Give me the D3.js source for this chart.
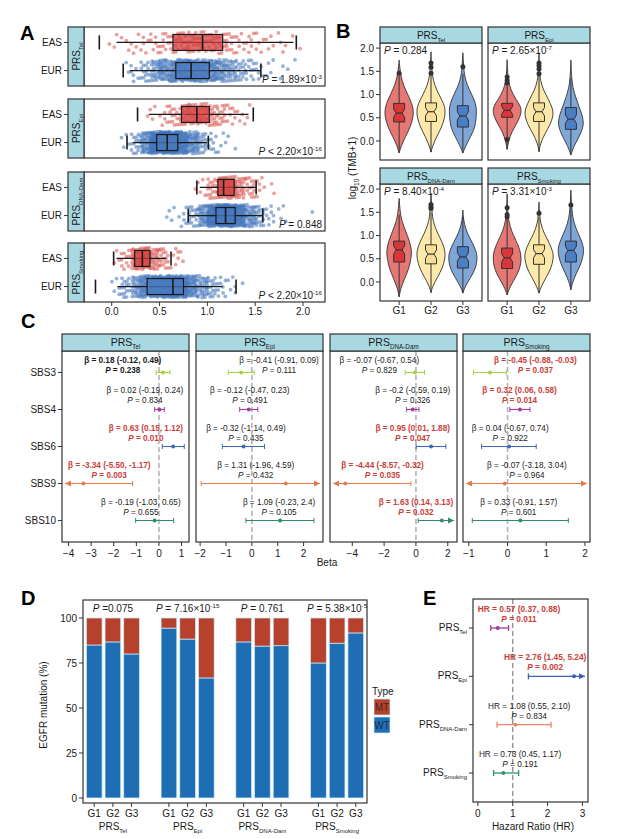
<!DOCTYPE html>
<html>
<head>
<meta charset="utf-8">
<script src="https://d3js.org/d3.v7.min.js"></script>
<style>
  body { margin: 0; background: #fff; }
  svg { font-family: "Liberation Sans", Arial, Helvetica, sans-serif; }
</style>
</head>
<body>
<svg id="fig" width="638" height="839"></svg>
<script>
// ---------- data ----------
var prsSubs = ['Tel', 'Epi', 'DNA-Dam', 'Smoking'];

// A: PRS by population
var aPops = ['EAS', 'EUR'];
var aTickVals = [0, 0.5, 1, 1.5, 2];
var aTickLabels = ['0.0', '0.5', '1.0', '1.5', '2.0'];
var aP = [['= 1.89×10', '-3'], ['< 2.20×10', '-16'], ['= 0.848', null], ['< 2.20×10', '-16']];
// [capLo, whiskerLo, q1, median, q3, whiskerHi, capHi]
var aBox = [
  [[-0.13, 0.05, 0.64, 0.95, 1.16, 1.90, 1.93], [0.12, 0.19, 0.67, 0.83, 1.02, 1.56, 1.56]],
  [[0.27, 0.39, 0.73, 0.89, 1.02, 1.43, 1.48], [0.16, 0.22, 0.47, 0.58, 0.69, 1.00, 1.01]],
  [[0.89, 0.92, 1.11, 1.17, 1.28, 1.51, 1.51], [0.80, 0.80, 1.09, 1.19, 1.29, 1.58, 1.58]],
  [[0.02, 0.05, 0.24, 0.32, 0.40, 0.57, 0.62], [-0.17, 0.06, 0.37, 0.64, 0.75, 1.16, 1.30]]
];
// sample counts per 0.1-wide bin (first bin starts at -0.2), estimated from the dot clouds
var aBinStart = -0.2, aBinWidth = 0.1;
var aCounts = [
  [[0,1,2,3,4,5,7,9,11,12,13,13,12,11,9,7,6,5,4,3,2,1,0],
   [0,0,0,2,6,14,25,38,48,55,56,52,45,36,26,17,10,6,4,2,1,1,0]],
  [[0,0,0,0,0,1,3,6,12,20,24,24,20,14,8,4,2,0,0,0,0,0,0],
   [0,0,0,4,14,40,85,110,100,70,40,20,9,4,2,0,0,0,0,0,0,0,0]],
  [[0,0,0,0,0,0,0,0,0,0,1,4,16,40,40,25,14,6,2,0,0,0,0],
   [0,0,0,0,0,0,0,1,3,6,15,35,80,120,110,70,35,18,8,3,1,0,1]],
  [[0,0,3,10,35,45,30,15,6,2,0,0,0,0,0,0,0,0,0,0,0,0,0],
   [0,0,5,15,30,50,65,75,85,70,45,28,16,9,5,1,0,0,0,0,0,0,0]]
];

// B: TMB violins
var bGroups = ['G1', 'G2', 'G3'];
var bTickVals = [0, 0.5, 1, 1.5, 2];
var bTickLabels = ['0.0', '0.5', '1.0', '1.5', '2.0'];
var bP = [['= 0.284', null], ['= 2.65×10', '-7'], ['= 8.40×10', '-4'], ['= 3.31×10', '-3']];
// violin outline: [value, relative half width]
var bViolin = [
  [[[-0.26,0],[-0.1,0.15],[0.1,0.45],[0.3,0.78],[0.5,0.97],[0.65,1],[0.8,0.9],[1.0,0.6],[1.2,0.3],[1.4,0.12],[1.6,0.04],[1.74,0]],
   [[-0.24,0],[-0.1,0.12],[0.1,0.4],[0.3,0.75],[0.5,0.95],[0.65,1],[0.8,0.9],[1.0,0.55],[1.2,0.25],[1.4,0.1],[1.6,0.04],[1.92,0]],
   [[-0.26,0],[-0.1,0.2],[0.1,0.55],[0.3,0.85],[0.5,0.92],[0.65,0.95],[0.8,0.9],[1.0,0.62],[1.2,0.3],[1.4,0.12],[1.6,0.05],[1.9,0]]],
  [[[-0.18,0],[0,0.1],[0.2,0.32],[0.4,0.72],[0.6,1],[0.75,0.95],[0.9,0.6],[1.1,0.25],[1.3,0.08],[1.5,0.03],[1.75,0]],
   [[-0.23,0],[-0.05,0.1],[0.15,0.4],[0.35,0.78],[0.55,1],[0.7,0.95],[0.9,0.65],[1.1,0.3],[1.3,0.1],[1.5,0.04],[1.9,0]],
   [[-0.3,0],[-0.1,0.22],[0.1,0.6],[0.3,0.85],[0.4,0.87],[0.55,0.8],[0.75,0.55],[0.95,0.32],[1.15,0.14],[1.35,0.05],[1.74,0]]],
  [[[-0.32,0],[-0.15,0.1],[0.05,0.35],[0.3,0.7],[0.55,0.85],[0.7,0.87],[0.9,0.7],[1.1,0.45],[1.3,0.2],[1.5,0.07],[1.8,0]],
   [[-0.23,0],[-0.1,0.1],[0.1,0.45],[0.3,0.8],[0.5,0.97],[0.65,1],[0.85,0.8],[1.05,0.45],[1.25,0.2],[1.45,0.07],[1.91,0]],
   [[-0.24,0],[-0.1,0.15],[0.1,0.55],[0.3,0.9],[0.5,1.0],[0.65,0.95],[0.85,0.65],[1.05,0.3],[1.25,0.1],[1.4,0.03],[1.55,0]]],
  [[[-0.28,0],[-0.1,0.2],[0.1,0.6],[0.3,0.9],[0.5,1],[0.7,0.9],[0.9,0.6],[1.1,0.3],[1.3,0.12],[1.5,0.04],[1.9,0]],
   [[-0.24,0],[-0.1,0.15],[0.1,0.5],[0.3,0.85],[0.5,1],[0.65,0.98],[0.85,0.7],[1.05,0.35],[1.25,0.12],[1.45,0.04],[1.72,0]],
   [[-0.17,0],[0,0.12],[0.2,0.4],[0.4,0.72],[0.6,0.88],[0.75,0.9],[0.95,0.65],[1.15,0.35],[1.35,0.15],[1.6,0.05],[1.98,0]]]
];
// [whiskerLo, q1, median, q3, whiskerHi]
var bBox = [
  [[-0.25,0.41,0.60,0.81,1.40], [-0.24,0.42,0.63,0.82,1.42], [-0.26,0.30,0.54,0.76,1.45]],
  [[-0.18,0.51,0.66,0.81,1.22], [-0.23,0.42,0.63,0.82,1.40], [-0.30,0.25,0.47,0.72,1.35]],
  [[-0.32,0.43,0.69,0.88,1.45], [-0.23,0.39,0.60,0.80,1.50], [-0.24,0.30,0.54,0.76,1.40]],
  [[-0.28,0.29,0.52,0.73,1.35], [-0.24,0.38,0.61,0.80,1.40], [-0.17,0.43,0.68,0.88,1.60]]
];
var bOut = [
  [[1.46], [1.46,1.59,1.68], [1.60]],
  [[1.25,1.31,1.38,0.03], [1.45,1.55,1.62,1.68], []],
  [[], [1.58,1.62,1.67], []],
  [[1.40,1.45,1.60], [1.48], [1.66]]
];

// C: SBS signatures vs PRS (beta, 95% CI)
var cSbs = ['SBS3', 'SBS4', 'SBS6', 'SBS9', 'SBS10'];
var cBeta = [['0.18','0.02','0.63','-3.34','-0.19'], ['-0.41','-0.12','-0.32','1.31','1.09'],
             ['-0.07','-0.2','0.95','-4.44','1.63'], ['-0.45','0.32','0.04','-0.07','0.33']];
var cLo = [['-0.12','-0.19','0.15','-5.50','-1.03'], ['-0.91','-0.47','-1.14','-1.96','-0.23'],
           ['-0.67','-0.59','0.01','-8.57','0.14'], ['-0.88','0.06','-0.67','-3.18','-0.91']];
var cHi = [['0.49','0.24','1.12','-1.17','0.65'], ['0.09','0.23','0.49','4.59','2.4'],
           ['0.54','0.19','1.88','-0.32','3.13'], ['-0.03','0.58','0.74','3.04','1.57']];
var cPval = [['0.238','0.834','0.010','0.003','0.655'], ['0.111','0.491','0.435','0.432','0.105'],
             ['0.829','0.326','0.047','0.035','0.032'], ['0.037','0.014','0.922','0.964','0.601']];
var cStyle = [['bold','plain','sig','sig','plain'], ['plain','plain','plain','plain','plain'],
              ['plain','plain','sig','sig','sig'], ['sig','sig','plain','plain','plain']];
var cLabelX = [[-1.6,-0.62,-0.58,-2.2,-0.8], [1.05,-0.08,-0.23,0.15,1.05],
               [-2.3,-0.2,-0.2,-2.1,0.0], [0.72,0.31,0.07,0.5,0.29]];
var cDomain = [[-4.29, 1.33], [-2.16, 2.75], [-5.4, 2.58], [-1.15, 2.13]];
var cTicks = [[-4,-3,-2,-1,0,1], [-2,-1,0,1,2], [-4,-2,0,2], [-1,0,1,2]];

// D: EGFR mutation share (%)
var dWT = [[85, 86.7, 80], [94.4, 88.3, 66.7], [86.7, 84.4, 84.6], [75, 86, 91.7]];
var dTypes = ['MT', 'WT'];
var dTickVals = [0, 25, 50, 75, 100];
var dP = [['=0.075', null], ['= 7.16×10', '-15'], ['= 0.761', null], ['= 5.38×10', '-5']];

// E: hazard ratios
var eHR = ['0.57', '2.76', '1.08', '0.73'];
var eLo = ['0.37', '1.45', '0.55', '0.45'];
var eHi = ['0.88', '5.24', '2.10', '1.17'];
var ePval = ['0.011', '0.002', '0.834', '0.191'];
var eSig = [true, true, false, false];
var eLabelX = [1.18, 1.93, 1.47, 1.21];
var eTicks = [0, 1, 2, 3];

// ---------- helpers ----------
var INK = '#1a1a1a', FRAME = '#333', STRIP = '#a8d8e2', RED = '#c9403a';
var fig = d3.select('#fig');

function txt(g, x, y, size, anchor) {
  return g.append('text').attr('x', x).attr('y', y).attr('font-size', size)
    .attr('text-anchor', anchor || 'start').attr('fill', INK);
}
function subLabel(t, main, sub, size) {
  t.append('tspan').text(main);
  if (sub) t.append('tspan').attr('font-size', size * 0.6).attr('dy', size * 0.3).text(sub);
  return t;
}
function pLabel(t, rest, sup, size) {
  t.append('tspan').attr('font-style', 'italic').text('P');
  t.append('tspan').text(' ' + rest);
  if (sup) t.append('tspan').attr('font-size', size * 0.62).attr('dy', -size * 0.42).text(sup);
  return t;
}
function frame(g, x, y, w, h, fill) {
  return g.append('rect').attr('x', x).attr('y', y).attr('width', w).attr('height', h)
    .attr('fill', fill || 'none').attr('stroke', FRAME).attr('stroke-width', 1.2);
}
function letter(t, x, y) {
  fig.append('text').attr('x', x).attr('y', y).attr('font-size', 20)
    .attr('font-weight', 'bold').attr('fill', '#000').text(t);
}
function arrowHead(g, x, y, dir, color) {
  g.append('path').attr('d', 'M' + x + ',' + y + 'l' + (-6 * dir) + ',-3v6z').attr('fill', color);
}

// ---------- A ----------
letter('A', 20, 40);
var ax = d3.scaleLinear().domain([-0.29, 2.23]).range([84, 325]);
var aTop = [27, 99, 172, 243], aH = 59;
var ay = d3.scalePoint().domain(aPops).range([0, aH]).padding(0.55);
var aPt = { EAS: '#d9534f', EUR: '#3f72ba' };
var aFill = { EAS: '#d43d3d', EUR: '#4a7bc0' };

prsSubs.forEach(function (sub, i) {
  var g = fig.append('g').attr('transform', 'translate(0,' + aTop[i] + ')');
  aPops.forEach(function (pop, j) {
    var cy = ay(pop), k = 0, pts = [];
    aCounts[i][j].forEach(function (n, b) {
      for (var m = 0; m < n; m++) {
        k++;
        pts.push([aBinStart + (b + (k * 0.7548776662) % 1) * aBinWidth, ((k * 0.5698402910) % 1) * 2 - 1]);
      }
    });
    g.selectAll(null).data(pts).enter().append('circle')
      .attr('cx', function (d) { return ax(d[0]); })
      .attr('cy', function (d) { return cy + d[1] * 11; })
      .attr('r', 1.9).attr('fill', aPt[pop]).attr('fill-opacity', 0.55);
  });
  aPops.forEach(function (pop, j) {
    var s = aBox[i][j], cy = ay(pop);
    g.append('line').attr('x1', ax(s[1])).attr('x2', ax(s[5])).attr('y1', cy).attr('y2', cy)
      .attr('stroke', INK).attr('stroke-width', 1.2);
    g.append('rect').attr('x', ax(s[2])).attr('width', ax(s[4]) - ax(s[2]))
      .attr('y', cy - 8).attr('height', 16).attr('fill', aFill[pop]).attr('fill-opacity', 0.75)
      .attr('stroke', INK).attr('stroke-width', 1.2);
    g.append('line').attr('x1', ax(s[3])).attr('x2', ax(s[3])).attr('y1', cy - 8).attr('y2', cy + 8)
      .attr('stroke', INK).attr('stroke-width', 1.6);
    [s[0], s[6]].forEach(function (c) {
      g.append('line').attr('x1', ax(c)).attr('x2', ax(c)).attr('y1', cy - 7).attr('y2', cy + 7)
        .attr('stroke', INK).attr('stroke-width', 1.6);
    });
    g.append('line').attr('x1', 64).attr('x2', 68).attr('y1', cy).attr('y2', cy).attr('stroke', FRAME);
    txt(g, 62, cy + 3.6, 10, 'end').text(pop);
  });
  frame(g, 84, 0, 241, aH);
  frame(g, 68, 0, 16, aH, STRIP);
  subLabel(g.append('text').attr('transform', 'translate(79.5,' + aH / 2 + ') rotate(-90)')
    .attr('text-anchor', 'middle').attr('font-size', 10).attr('fill', INK), 'PRS', sub, 10);
  pLabel(txt(g, 322, aH - 3, 10, 'end'), aP[i][0], aP[i][1], 10);
});
var aAxisY = aTop[3] + aH;
aTickVals.forEach(function (v, i) {
  fig.append('line').attr('x1', ax(v)).attr('x2', ax(v)).attr('y1', aAxisY).attr('y2', aAxisY + 4).attr('stroke', FRAME);
  txt(fig, ax(v), aAxisY + 13, 10, 'middle').text(aTickLabels[i]);
});

// ---------- B ----------
letter('B', 336, 38);
var bLeft = [380, 488], bW = 102, bStripTop = [27, 168], bStripH = 16, bPH = 117;
var by = d3.scaleLinear().domain([-0.41, 2.11]).range([bPH, 0]);
var bx = d3.scalePoint().domain(bGroups).range([0, bW]).padding(0.6);
var bViolinFill = ['#e57775', '#fde9aa', '#80a6d7'];
var bBoxFill = ['#d8373a', '#f9df95', '#4b7fc3'];

prsSubs.forEach(function (sub, i) {
  var col = i % 2, row = Math.floor(i / 2);
  var x0 = bLeft[col], yTop = bStripTop[row] + bStripH;
  var g = fig.append('g').attr('transform', 'translate(' + x0 + ',' + yTop + ')');
  bGroups.forEach(function (grp, k) {
    var cx = bx(grp), s = bBox[i][k];
    var area = d3.area().curve(d3.curveBasis)
      .y(function (d) { return by(d[0]); })
      .x0(function (d) { return cx - d[1] * 14.4; })
      .x1(function (d) { return cx + d[1] * 14.4; });
    g.append('path').attr('d', area(bViolin[i][k])).attr('fill', bViolinFill[k])
      .attr('stroke', FRAME).attr('stroke-width', 0.9);
    g.append('line').attr('x1', cx).attr('x2', cx).attr('y1', by(s[0])).attr('y2', by(s[4]))
      .attr('stroke', FRAME).attr('stroke-width', 1);
    var hw = 5.5, ins = 2.5, n = 0.09;
    var pts = [[cx - hw, by(s[1])], [cx - hw, by(s[2] - n)], [cx - hw + ins, by(s[2])], [cx - hw, by(s[2] + n)],
               [cx - hw, by(s[3])], [cx + hw, by(s[3])], [cx + hw, by(s[2] + n)], [cx + hw - ins, by(s[2])],
               [cx + hw, by(s[2] - n)], [cx + hw, by(s[1])]];
    g.append('path').attr('d', 'M' + pts.join('L') + 'Z').attr('fill', bBoxFill[k])
      .attr('stroke', FRAME).attr('stroke-width', 1);
    g.append('line').attr('x1', cx - hw + ins).attr('x2', cx + hw - ins).attr('y1', by(s[2])).attr('y2', by(s[2]))
      .attr('stroke', FRAME).attr('stroke-width', 1.2);
    g.selectAll(null).data(bOut[i][k]).enter().append('circle')
      .attr('cx', cx).attr('cy', function (d) { return by(d); }).attr('r', 2.5).attr('fill', '#333');
  });
  frame(g, 0, 0, bW, bPH);
  frame(g, 0, -bStripH, bW, bStripH, STRIP);
  subLabel(txt(g, bW / 2, -4.5, 10, 'middle'), 'PRS', sub, 10);
  pLabel(txt(g, 4, 11, 10, 'start'), bP[i][0], bP[i][1], 10);
  if (col === 0) {
    bTickVals.forEach(function (v, t) {
      g.append('line').attr('x1', -4).attr('x2', 0).attr('y1', by(v)).attr('y2', by(v)).attr('stroke', FRAME);
      txt(g, -6, by(v) + 3.6, 10, 'end').text(bTickLabels[t]);
    });
  }
  if (row === 1) {
    bGroups.forEach(function (grp) {
      g.append('line').attr('x1', bx(grp)).attr('x2', bx(grp)).attr('y1', bPH).attr('y2', bPH + 4).attr('stroke', FRAME);
      txt(g, bx(grp), bPH + 13, 10, 'middle').text(grp);
    });
  }
});
var bTitle = txt(fig, 0, 0, 10, 'middle').attr('transform', 'translate(356,168) rotate(-90)');
bTitle.append('tspan').text('log');
bTitle.append('tspan').attr('font-size', 6.5).attr('dy', 3).text('10');
bTitle.append('tspan').attr('dy', -3).text(' (TMB+1)');

// ---------- C ----------
letter('C', 21, 328);
var cLeft = [62, 196, 330, 463], cW = 127, cStripTop = 334, cStripH = 17, cPlotTop = 351, cPlotH = 191;
var cy = d3.scalePoint().domain(cSbs).range([cPlotTop, cPlotTop + cPlotH]).padding(0.58);
var cColor = ['#a8cf45', '#a33ea1', '#3f69b0', '#e47a4f', '#2e8c6c'];

prsSubs.forEach(function (sub, i) {
  var x = d3.scaleLinear().domain(cDomain[i]).range([cLeft[i], cLeft[i] + cW]);
  var g = fig.append('g');
  g.append('line').attr('x1', x(0)).attr('x2', x(0)).attr('y1', cPlotTop).attr('y2', cPlotTop + cPlotH)
    .attr('stroke', '#b3b3b3').attr('stroke-width', 1.6).attr('stroke-dasharray', '5,3');
  cSbs.forEach(function (sbs, r) {
    var yy = cy(sbs), col = cColor[r];
    var b = +cBeta[i][r], lo = +cLo[i][r], hi = +cHi[i][r];
    var loOut = lo < cDomain[i][0], hiOut = hi > cDomain[i][1];
    var xl = loOut ? cLeft[i] + 3 : x(lo), xh = hiOut ? cLeft[i] + cW - 3 : x(hi);
    g.append('line').attr('x1', xl).attr('x2', xh).attr('y1', yy).attr('y2', yy)
      .attr('stroke', col).attr('stroke-width', 1.1);
    if (loOut) arrowHead(g, xl, yy, -1, col);
    else g.append('line').attr('x1', xl).attr('x2', xl).attr('y1', yy - 2.5).attr('y2', yy + 2.5).attr('stroke', col);
    if (hiOut) arrowHead(g, xh, yy, 1, col);
    else g.append('line').attr('x1', xh).attr('x2', xh).attr('y1', yy - 2.5).attr('y2', yy + 2.5).attr('stroke', col);
    g.append('circle').attr('cx', x(b)).attr('cy', yy).attr('r', 2).attr('fill', col);

    var st = cStyle[i][r], lx = x(cLabelX[i][r]);
    var off1 = r === 0 ? 9 : 16, off2 = r === 0 ? -1 : 6;
    var t1 = txt(g, lx, yy - off1, 8.2, 'middle')
      .text('β = ' + cBeta[i][r] + ' (' + cLo[i][r] + ', ' + cHi[i][r] + ')');
    var t2 = pLabel(txt(g, lx, yy - off2, 8.2, 'middle'), '= ' + cPval[i][r], null, 8.2);
    if (st !== 'plain') { t1.attr('font-weight', 'bold'); t2.attr('font-weight', 'bold'); }
    if (st === 'sig') { t1.attr('fill', RED); t2.attr('fill', RED); }
  });
  frame(g, cLeft[i], cPlotTop, cW, cPlotH);
  frame(g, cLeft[i], cStripTop, cW, cStripH, STRIP);
  subLabel(txt(g, cLeft[i] + cW / 2, cStripTop + 12, 10.5, 'middle'), 'PRS', sub, 10.5);
  cTicks[i].forEach(function (v) {
    g.append('line').attr('x1', x(v)).attr('x2', x(v)).attr('y1', cPlotTop + cPlotH).attr('y2', cPlotTop + cPlotH + 4).attr('stroke', FRAME);
    txt(g, x(v), cPlotTop + cPlotH + 14.5, 10, 'middle').text(v < 0 ? '−' + Math.abs(v) : String(v));
  });
  if (i === 0) {
    cSbs.forEach(function (sbs) {
      g.append('line').attr('x1', cLeft[0] - 4).attr('x2', cLeft[0]).attr('y1', cy(sbs)).attr('y2', cy(sbs)).attr('stroke', FRAME);
      txt(g, cLeft[0] - 6, cy(sbs) + 3.6, 10, 'end').text(sbs);
    });
  }
});
txt(fig, 327, 566, 10, 'middle').text('Beta');

// ---------- D ----------
letter('D', 21, 605);
var dx = d3.scaleLinear().domain([0.4, 15.6]).range([83, 367]);
var dy = d3.scaleLinear().domain([-2.8, 110]).range([803, 600]);
var dColor = { MT: '#b6412d', WT: '#1f6db3' };
var dg = fig.append('g');
prsSubs.forEach(function (sub, g) {
  bGroups.forEach(function (grp, k) {
    var slot = 1 + g * 4 + k, wt = dWT[g][k];
    var xa = dx(slot - 0.42), w = dx(slot + 0.42) - xa;
    dg.append('rect').attr('x', xa).attr('width', w).attr('y', dy(wt)).attr('height', dy(0) - dy(wt))
      .attr('fill', dColor.WT).attr('stroke', '#cfeefa').attr('stroke-width', 0.7);
    dg.append('rect').attr('x', xa).attr('width', w).attr('y', dy(100)).attr('height', dy(wt) - dy(100))
      .attr('fill', dColor.MT).attr('stroke', '#cfeefa').attr('stroke-width', 0.7);
    dg.append('line').attr('x1', dx(slot)).attr('x2', dx(slot)).attr('y1', 803).attr('y2', 807).attr('stroke', FRAME);
    txt(dg, dx(slot), 817, 10, 'middle').text(grp);
  });
  var mid = dx(2 + g * 4);
  pLabel(txt(dg, mid, 612, 10, 'middle'), dP[g][0], dP[g][1], 10);
  subLabel(txt(dg, mid, 830, 10, 'middle'), 'PRS', sub, 10);
});
frame(dg, 83, 600, 284, 203);
dTickVals.forEach(function (v) {
  dg.append('line').attr('x1', 79).attr('x2', 83).attr('y1', dy(v)).attr('y2', dy(v)).attr('stroke', FRAME);
  txt(dg, 77, dy(v) + 3.6, 10, 'end').text(v);
});
txt(dg, 0, 0, 10, 'middle').attr('transform', 'translate(46.5,705) rotate(-90)').text('EGFR mutation (%)');
txt(dg, 372, 695, 10, 'start').text('Type');
dTypes.forEach(function (t, k) {
  var ky = 699 + k * 18;
  dg.append('rect').attr('x', 374).attr('y', ky).attr('width', 16).attr('height', 16)
    .attr('fill', dColor[t]).attr('stroke', '#cfeefa').attr('stroke-width', 0.7);
  txt(dg, 382, ky + 12, 10, 'middle').attr('fill-opacity', 0.75).text(t);
});

// ---------- E ----------
letter('E', 423, 605);
var ex = d3.scaleLinear().domain([-0.14, 3.16]).range([473, 588]);
var ey = d3.scalePoint().domain(prsSubs).range([599, 802]).padding(0.6);
var eColor = ['#a23d9f', '#3e5eb3', '#e8876c', '#2f9473'];
var eg = fig.append('g');
eg.append('line').attr('x1', ex(1)).attr('x2', ex(1)).attr('y1', 599).attr('y2', 802)
  .attr('stroke', '#8a8a8a').attr('stroke-width', 1.3).attr('stroke-dasharray', '5,3');
prsSubs.forEach(function (sub, i) {
  var yy = ey(sub), col = eColor[i];
  var lo = +eLo[i], hi = +eHi[i], hiOut = hi > 3.16;
  var xl = ex(lo), xh = hiOut ? 585 : ex(hi);
  eg.append('line').attr('x1', xl).attr('x2', xh).attr('y1', yy).attr('y2', yy).attr('stroke', col).attr('stroke-width', 1.3);
  eg.append('line').attr('x1', xl).attr('x2', xl).attr('y1', yy - 3).attr('y2', yy + 3).attr('stroke', col).attr('stroke-width', 1.3);
  if (hiOut) arrowHead(eg, xh, yy, 1, col);
  else eg.append('line').attr('x1', xh).attr('x2', xh).attr('y1', yy - 3).attr('y2', yy + 3).attr('stroke', col).attr('stroke-width', 1.3);
  eg.append('circle').attr('cx', ex(+eHR[i])).attr('cy', yy).attr('r', 2).attr('fill', col);
  var lx = ex(eLabelX[i]);
  var t1 = txt(eg, lx, yy - 16, 8.3, 'middle').text('HR = ' + eHR[i] + ' (' + eLo[i] + ', ' + eHi[i] + ')');
  var t2 = pLabel(txt(eg, lx, yy - 6, 8.3, 'middle'), '= ' + ePval[i], null, 8.3);
  if (eSig[i]) { t1.attr('fill', RED).attr('font-weight', 'bold'); t2.attr('fill', RED).attr('font-weight', 'bold'); }
  eg.append('line').attr('x1', 469).attr('x2', 473).attr('y1', yy).attr('y2', yy).attr('stroke', FRAME);
  subLabel(txt(eg, 467, yy + 3, 10, 'end'), 'PRS', sub, 10);
});
frame(eg, 473, 599, 115, 203);
eTicks.forEach(function (v) {
  eg.append('line').attr('x1', ex(v)).attr('x2', ex(v)).attr('y1', 802).attr('y2', 806).attr('stroke', FRAME);
  txt(eg, ex(v), 817, 10, 'middle').text(v);
});
txt(eg, 533, 830, 10, 'middle').text('Hazard Ratio (HR)');
</script>
</body>
</html>
